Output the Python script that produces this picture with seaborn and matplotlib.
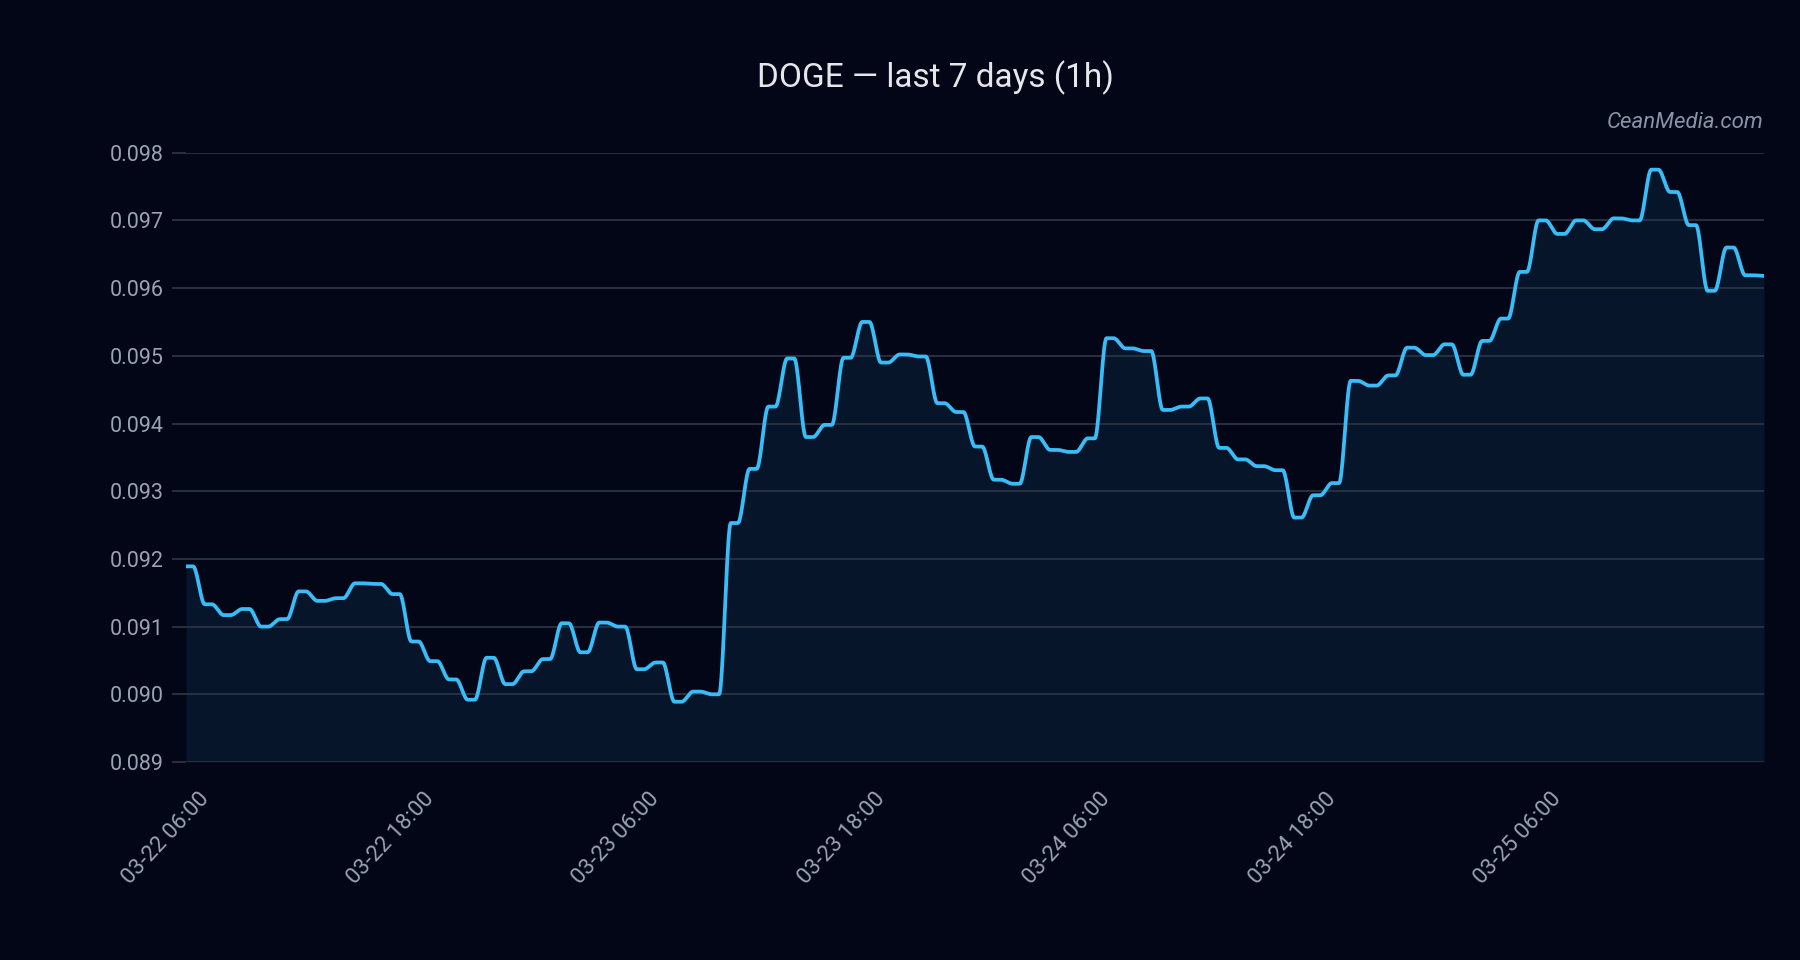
import numpy as np
import pandas as pd
import seaborn as sns
import matplotlib.pyplot as plt
import matplotlib.dates as mdates
import matplotlib.transforms as mtransforms

# Hourly DOGE closes, starting 03-22 06:00
start_time = '2023-03-22 06:00'
prices = [
    0.09189, 0.09133, 0.09117, 0.09126, 0.09100, 0.09111, 0.09152, 0.09138, 0.09142, 0.09164,
    0.09163, 0.09148, 0.09078, 0.09049, 0.09022, 0.08992, 0.09054, 0.09015, 0.09034, 0.09052,
    0.09105, 0.09062, 0.09106, 0.09100, 0.09037, 0.09047, 0.08989, 0.09004, 0.09000, 0.09253,
    0.09333, 0.09425, 0.09496, 0.09380, 0.09398, 0.09497, 0.09550, 0.09490, 0.09502, 0.09499,
    0.09430, 0.09417, 0.09366, 0.09317, 0.09311, 0.09380, 0.09361, 0.09358, 0.09378, 0.09526,
    0.09511, 0.09507, 0.09420, 0.09425, 0.09437, 0.09364, 0.09347, 0.09337, 0.09331, 0.09261,
    0.09294, 0.09312, 0.09463, 0.09456, 0.09471, 0.09512, 0.09501, 0.09517, 0.09472, 0.09522,
    0.09555, 0.09624, 0.09700, 0.09680, 0.09700, 0.09687, 0.09703, 0.09700, 0.09775, 0.09742,
    0.09693, 0.09596, 0.09660, 0.09619, 0.09618,
]
y_ticks = [0.089, 0.090, 0.091, 0.092, 0.093, 0.094, 0.095, 0.096, 0.097, 0.098]
title = 'DOGE \u2014 last 7 days (1h)'
watermark = 'CeanMedia.com'

# Colours
bg = '#020617'
fill_col = '#06152a'
line_col = '#38bdf8'
grid_col = '#2b3444'
tick_col = '#9aa3b5'

times = pd.date_range(start_time, periods=len(prices), freq='h')
df = pd.DataFrame({'time': times, 'price': prices})

# Smooth the hourly steps for drawing (eased transition in the later part of each hour)
s = np.linspace(0, 1, 31)[:-1]
e = np.clip((s - 0.38) / 0.62, 0, 1)
w = e * e * (3 - 2 * e)
dense_t, dense_y = [], []
for i in range(len(df) - 1):
    t0, t1 = df['time'].iloc[i], df['time'].iloc[i + 1]
    y0, y1 = df['price'].iloc[i], df['price'].iloc[i + 1]
    dense_t.extend(t0 + (t1 - t0) * s)
    dense_y.extend(y0 + (y1 - y0) * w)
dense_t.append(df['time'].iloc[-1])
dense_y.append(df['price'].iloc[-1])
smooth = pd.DataFrame({'time': pd.to_datetime(dense_t), 'price': dense_y})

sns.set_theme(style='dark')
plt.rcParams['font.family'] = ['Roboto', 'DejaVu Sans']
plt.rcParams['axes.facecolor'] = bg
plt.rcParams['figure.facecolor'] = bg

fig = plt.figure(figsize=(18, 9.6), dpi=100)
ax = fig.add_axes([186 / 1800, 1 - 762 / 960, (1764 - 186) / 1800, (762 - 152.7) / 960])
ax.set_facecolor(bg)

ax.fill_between(smooth['time'], smooth['price'], y_ticks[0], color=fill_col, linewidth=0, zorder=1)
sns.lineplot(data=smooth, x='time', y='price', color=line_col, linewidth=2.7, ax=ax, zorder=3)

ax.set_xlim(times[0], times[-1])
ax.set_ylim(y_ticks[0], y_ticks[-1])
ax.set_yticks(y_ticks)
ax.set_yticklabels([f'{v:.3f}' for v in y_ticks])
ax.set_xticks(pd.date_range(start_time, periods=7, freq='12h'))
ax.xaxis.set_major_formatter(mdates.DateFormatter('%m-%d %H:%M'))

ax.set_axisbelow(False)
ax.grid(axis='y', color=grid_col, linewidth=1.3, zorder=2)
ax.grid(axis='x', visible=False)
for sp in ax.spines.values():
    sp.set_visible(False)
ax.tick_params(axis='y', length=10, width=1.3, color=grid_col, labelcolor=tick_col, labelsize=15.5, pad=6, left=True)
ax.tick_params(axis='x', length=0, labelcolor=tick_col, labelsize=16, pad=4)
ax.set_xlabel('')
ax.set_ylabel('')

offset = mtransforms.ScaledTranslation(14 / 72, -20 / 72, fig.dpi_scale_trans)
for lab in ax.get_xticklabels():
    lab.set_rotation(47)
    lab.set_ha('right')
    lab.set_va('center')
    lab.set_rotation_mode('anchor')
    lab.set_transform(lab.get_transform() + offset)

fig.text(935 / 1800, 1 - 78 / 960, title, ha='center', va='center', fontsize=24, color='#e5e7eb')
fig.text(1764 / 1800, 1 - 122 / 960, watermark, ha='right', va='center', fontsize=16,
         color='#8b93a7', style='italic')

fig.savefig('out.png', dpi=100, facecolor=bg)
